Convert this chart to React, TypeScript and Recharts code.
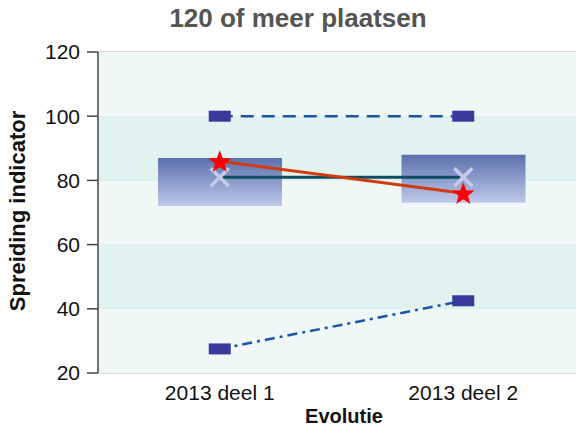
import React from "react";
import {
  Bar,
  CartesianGrid,
  ComposedChart,
  Line,
  ReferenceArea,
  XAxis,
  YAxis,
} from "recharts";

const categories = ["2013 deel 1", "2013 deel 2"];
const boxLow = [72, 73];
const boxHigh = [87, 88];
const meanValues = [81, 81];
const ownValues = [86, 76];
const maxValues = [100, 100];
const minValues = [27.5, 42.5];
const yTicks = [20, 40, 60, 80, 100, 120];
const bands = [
  [20, 40, "#eff8f7"],
  [40, 60, "#e2f2f0"],
  [60, 80, "#eff8f7"],
  [80, 100, "#e2f2f0"],
  [100, 120, "#eff8f7"],
] as const;

const data = categories.map((name, i) => ({
  name,
  box: [boxLow[i], boxHigh[i]],
  mean: meanValues[i],
  own: ownValues[i],
  max: maxValues[i],
  min: minValues[i],
}));

const FONT = "'Liberation Sans', Arial, sans-serif";

function RectDot(props: any) {
  const { cx, cy } = props;
  if (cx == null || cy == null) return null;
  return <rect x={cx - 11} y={cy - 5.5} width={22} height={11} fill="#3a3a9c" />;
}

function CrossDot(props: any) {
  const { cx, cy } = props;
  if (cx == null || cy == null) return null;
  const r = 9;
  return (
    <g stroke="#c6cae9" strokeWidth={3.5}>
      <line x1={cx - r} y1={cy - r} x2={cx + r} y2={cy + r} />
      <line x1={cx - r} y1={cy + r} x2={cx + r} y2={cy - r} />
    </g>
  );
}

function StarDot(props: any) {
  const { cx, cy } = props;
  if (cx == null || cy == null) return null;
  const outer = 12;
  const inner = 5;
  const pts: string[] = [];
  for (let i = 0; i < 10; i++) {
    const r = i % 2 === 0 ? outer : inner;
    const a = -Math.PI / 2 + (i * Math.PI) / 5;
    pts.push(`${cx + r * Math.cos(a)},${cy + 1 + r * Math.sin(a)}`);
  }
  return <polygon points={pts.join(" ")} fill="#ff0000" />;
}

export default function App() {
  return (
    <div style={{ position: "relative", width: 576, height: 428, overflow: "hidden", fontFamily: FONT }}>
      <style>{`body{margin:0;}`}</style>
      <div
        style={{
          position: "absolute",
          left: 298,
          top: 3,
          transform: "translateX(-50%)",
          fontSize: 26,
          fontWeight: "bold",
          color: "#555555",
          whiteSpace: "nowrap",
        }}
      >
        120 of meer plaatsen
      </div>
      <div
        style={{
          position: "absolute",
          left: 18,
          top: 211,
          transform: "translate(-50%, -50%) rotate(-90deg)",
          fontSize: 22,
          fontWeight: "bold",
          color: "#111",
          whiteSpace: "nowrap",
        }}
      >
        Spreiding indicator
      </div>
      <div
        style={{
          position: "absolute",
          left: 344,
          top: 405,
          transform: "translateX(-50%)",
          fontSize: 20,
          fontWeight: "bold",
          color: "#111",
          whiteSpace: "nowrap",
        }}
      >
        Evolutie
      </div>
      <ComposedChart
        width={585}
        height={428}
        data={data}
        margin={{ top: 52, right: 0, bottom: 0, left: 0 }}
        style={{ position: "absolute", left: 0, top: 0 }}
      >
        <defs>
          <linearGradient id="boxFill" x1="0" y1="0" x2="0" y2="1">
            <stop offset="0%" stopColor="#5a70ad" />
            <stop offset="100%" stopColor="#bfcaea" />
          </linearGradient>
        </defs>
        {bands.map(([y1, y2, fill]) => (
          <ReferenceArea key={y1} y1={y1} y2={y2} fill={fill} fillOpacity={1} stroke="none" />
        ))}
        <CartesianGrid vertical={false} stroke="#d6dcdc" strokeWidth={2} />
        <XAxis
          dataKey="name"
          height={55}
          axisLine={false}
          tickLine={false}
          tick={{ fill: "#111", fontSize: 21, fontFamily: FONT }}
          tickMargin={6}
        />
        <YAxis
          width={98}
          domain={[20, 120]}
          ticks={yTicks}
          allowDataOverflow
          axisLine={{ stroke: "#444", strokeWidth: 1.5 }}
          tickLine={{ stroke: "#444", strokeWidth: 1.5 }}
          tickSize={11}
          tickMargin={7}
          tick={{ fill: "#111", fontSize: 21, fontFamily: FONT }}
        />
        <Bar dataKey="box" barSize={124} fill="url(#boxFill)" isAnimationActive={false} />
        <Line
          dataKey="max"
          stroke="#1a56a8"
          strokeWidth={2.5}
          strokeDasharray="13 8"
          dot={<RectDot />}
          activeDot={false}
          isAnimationActive={false}
        />
        <Line
          dataKey="min"
          stroke="#1a56a8"
          strokeWidth={2.5}
          strokeDasharray="10 5 3 5"
          dot={<RectDot />}
          activeDot={false}
          isAnimationActive={false}
        />
        <Line
          dataKey="mean"
          stroke="#0b4d63"
          strokeWidth={3}
          dot={<CrossDot />}
          activeDot={false}
          isAnimationActive={false}
        />
        <Line
          dataKey="own"
          stroke="#d33a0c"
          strokeWidth={3}
          dot={<StarDot />}
          activeDot={false}
          isAnimationActive={false}
        />
      </ComposedChart>
    </div>
  );
}
